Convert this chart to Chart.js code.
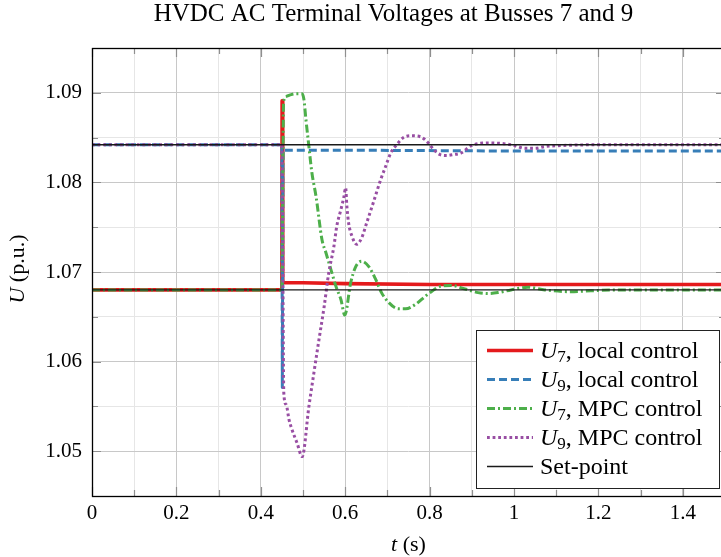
<!DOCTYPE html>
<html>
<head>
<meta charset="utf-8">
<script src="https://cdn.jsdelivr.net/npm/chart.js@4/dist/chart.umd.min.js"></script>
<style>
  html, body { margin: 0; padding: 0; background: #fff; overflow: hidden; }
  #wrap { position: relative; width: 730px; height: 557px; }
</style>
</head>
<body>
<div id="wrap"><canvas id="chart"></canvas></div>
<script>
// ---- data: time (s) and AC terminal voltages (p.u.) ----
const tU7Local = [0, 0.450, 0.4505, 0.452, 0.50, 0.60, 0.80, 1.00, 1.50];
const u7Local  = [1.0680, 1.0680, 1.0891, 1.0688, 1.0688, 1.0687, 1.0686, 1.0686, 1.0686];

const tU9Local = [0, 0.450, 0.4510, 0.4525, 0.60, 1.00, 1.50];
const u9Local  = [1.0842, 1.0842, 1.0571, 1.0836, 1.0836, 1.0835, 1.0835];

const tU7Mpc = [0, 0.450, 0.454, 0.460, 0.472, 0.485, 0.498, 0.502, 0.507, 0.514,
                0.521, 0.531, 0.545, 0.554, 0.566, 0.578, 0.590, 0.599, 0.613, 0.625,
                0.639, 0.656, 0.672, 0.686, 0.703, 0.726, 0.743, 0.767, 0.790, 0.804,
                0.825, 0.851, 0.884, 0.915, 0.939, 0.962, 0.993, 1.033, 1.073, 1.134,
                1.182, 1.229, 1.292, 1.400, 1.500];
const u7Mpc  = [1.0680, 1.0680, 1.0890, 1.0896, 1.0898, 1.0899, 1.0899, 1.0893, 1.0870, 1.0840,
                1.0811, 1.0784, 1.0736, 1.0722, 1.0703, 1.0684, 1.0669, 1.0652, 1.0688, 1.0706,
                1.0712, 1.0706, 1.0692, 1.0677, 1.0666, 1.0659, 1.0659, 1.0664, 1.0673, 1.0678,
                1.0684, 1.0685, 1.0681, 1.0677, 1.0676, 1.0677, 1.0680, 1.0683, 1.0680, 1.0678,
                1.0679, 1.0680, 1.0680, 1.0680, 1.0680];

const tU9Mpc = [0, 0.450, 0.4545, 0.460, 0.467, 0.474, 0.486, 0.498, 0.514, 0.526,
                0.538, 0.550, 0.561, 0.573, 0.580, 0.590, 0.597, 0.601, 0.604, 0.608,
                0.616, 0.627, 0.639, 0.651, 0.667, 0.684, 0.696, 0.708, 0.722, 0.738,
                0.757, 0.778, 0.797, 0.809, 0.825, 0.840, 0.856, 0.875, 0.899, 0.939,
                0.979, 1.002, 1.026, 1.050, 1.073, 1.104, 1.200, 1.300, 1.500];
const u9Mpc  = [1.0842, 1.0842, 1.0565, 1.0552, 1.0535, 1.0524, 1.0509, 1.0494, 1.0550, 1.0588,
                1.0625, 1.0661, 1.0699, 1.0728, 1.0751, 1.0770, 1.0784, 1.0794, 1.0773, 1.0755,
                1.0740, 1.0731, 1.0738, 1.0755, 1.0778, 1.0803, 1.0818, 1.0833, 1.0842, 1.0850,
                1.0852, 1.0851, 1.0844, 1.0837, 1.0831, 1.0830, 1.0831, 1.0833, 1.0841, 1.0844,
                1.0843, 1.0841, 1.0838, 1.0838, 1.0840, 1.0841, 1.0842, 1.0842, 1.0842];

const tSetpoint = [0, 1.5];
const setpointU7 = 1.0680;
const setpointU9 = 1.0842;

// axis limits and tick steps
const xMin = 0, xMax = 1.5, xStep = 0.1;
const yMin = 1.045, yMax = 1.095, yStep = 0.005;

const titleText = 'HVDC AC Terminal Voltages at Busses 7 and 9';

// ---- styling ----
const SERIF = '"Liberation Serif", "Times New Roman", serif';
const RED = '#e41a1c', BLUE = '#377eb8', GREEN = '#4daf4a', PURPLE = '#984ea3';
const GRID_MAJOR = '#c8c8c8', GRID_MINOR = '#e6e6e6', TICK_COLOR = '#8f8f8f';

const pairs = (ts, us) => ts.map((t, i) => ({ x: t, y: us[i] }));
const isMajorX = v => Math.round(v * 10) % 2 === 0;
const isMajorY = v => Math.round(v * 1000) % 10 === 0;

const datasets = [
  { data: pairs(tSetpoint, [setpointU7, setpointU7]), borderColor: '#1a1a1a', borderWidth: 1.4,
    order: 0, legendVar: null, legendText: 'Set-point', legendRank: 4 },
  { data: pairs(tSetpoint, [setpointU9, setpointU9]), borderColor: '#1a1a1a', borderWidth: 1.4,
    order: 0, hideInLegend: true },
  { data: pairs(tU9Mpc, u9Mpc), borderColor: PURPLE, borderWidth: 3, borderDash: [2.8, 2.8],
    cubicInterpolationMode: 'monotone', order: 1,
    legendVar: 'U', legendSub: '9', legendText: ', MPC control', legendRank: 3 },
  { data: pairs(tU7Mpc, u7Mpc), borderColor: GREEN, borderWidth: 3, borderDash: [8, 3, 2, 3],
    cubicInterpolationMode: 'monotone', order: 2,
    legendVar: 'U', legendSub: '7', legendText: ', MPC control', legendRank: 2 },
  { data: pairs(tU9Local, u9Local), borderColor: BLUE, borderWidth: 3, borderDash: [8, 4],
    tension: 0, order: 3,
    legendVar: 'U', legendSub: '9', legendText: ', local control', legendRank: 1 },
  { data: pairs(tU7Local, u7Local), borderColor: RED, borderWidth: 3.6,
    tension: 0, order: 4,
    legendVar: 'U', legendSub: '7', legendText: ', local control', legendRank: 0 }
];

// draws a sequence of differently styled text runs starting at x
function drawRuns(ctx, runs, x, y) {
  let cx = x;
  runs.forEach(r => {
    ctx.font = r.font;
    ctx.fillText(r.text, cx, y + (r.dy || 0));
    cx += ctx.measureText(r.text).width;
  });
  return cx - x;
}
function runsWidth(ctx, runs) {
  let w = 0;
  runs.forEach(r => { ctx.font = r.font; w += ctx.measureText(r.text).width; });
  return w;
}

const decorations = {
  id: 'decorations',
  beforeDatasetsDraw(chart) {
    const { ctx, chartArea: a, scales: { x, y } } = chart;
    ctx.save();
    ctx.strokeStyle = TICK_COLOR;
    ctx.lineWidth = 1.2;
    ctx.beginPath();
    x.ticks.forEach(t => {
      const px = Math.round(x.getPixelForValue(t.value)) + 0.5;
      const len = isMajorX(t.value) ? 9 : 6;
      ctx.moveTo(px, a.bottom); ctx.lineTo(px, a.bottom - len);
      ctx.moveTo(px, a.top); ctx.lineTo(px, a.top + len);
    });
    y.ticks.forEach(t => {
      const py = Math.round(y.getPixelForValue(t.value)) + 0.5;
      const len = isMajorY(t.value) ? 9 : 6;
      ctx.moveTo(a.left, py); ctx.lineTo(a.left + len, py);
      ctx.moveTo(a.right, py); ctx.lineTo(a.right - len, py);
    });
    ctx.stroke();
    ctx.restore();
  },
  afterDraw(chart) {
    const { ctx, chartArea: a } = chart;
    ctx.save();
    ctx.fillStyle = '#000';
    ctx.textBaseline = 'alphabetic';

    // axis frame
    ctx.strokeStyle = '#000';
    ctx.lineWidth = 1.3;
    ctx.strokeRect(Math.round(a.left) + 0.5, Math.round(a.top) + 0.5,
                   a.right - a.left, Math.round(a.bottom) - Math.round(a.top));

    // title
    ctx.font = `25px ${SERIF}`;
    ctx.textAlign = 'center';
    ctx.fillText(titleText, 393.5, 21);
    ctx.textAlign = 'left';

    // x axis label: t (s)
    const xl = [{ text: 't', font: `italic 22px ${SERIF}` }, { text: ' (s)', font: `22px ${SERIF}` }];
    drawRuns(ctx, xl, (a.left + a.right) / 2 - runsWidth(ctx, xl) / 2, 551);

    // y axis label: U (p.u.)
    const yl = [{ text: 'U', font: `italic 22px ${SERIF}` }, { text: ' (p.u.)', font: `22px ${SERIF}` }];
    ctx.save();
    ctx.translate(24, (a.top + a.bottom) / 2 - 3);
    ctx.rotate(-Math.PI / 2);
    drawRuns(ctx, yl, -runsWidth(ctx, yl) / 2, 0);
    ctx.restore();

    // legend box
    const bx = 476.5, by = 330.5, bw = 243, bh = 158;
    ctx.fillStyle = '#fff';
    ctx.fillRect(bx, by, bw, bh);
    ctx.strokeStyle = '#222';
    ctx.lineWidth = 1;
    ctx.strokeRect(bx, by, bw, bh);

    const entries = chart.data.datasets.filter(d => !d.hideInLegend)
      .sort((p, q) => p.legendRank - q.legendRank);
    entries.forEach((d, i) => {
      const cy = 350.5 + i * 29;
      ctx.save();
      ctx.strokeStyle = d.borderColor;
      ctx.lineWidth = d.borderWidth;
      ctx.lineCap = 'butt';
      ctx.setLineDash(d.borderDash || []);
      ctx.beginPath();
      ctx.moveTo(487, cy); ctx.lineTo(533, cy);
      ctx.stroke();
      ctx.restore();
      ctx.fillStyle = '#000';
      const runs = [];
      if (d.legendVar) {
        runs.push({ text: d.legendVar, font: `italic 24px ${SERIF}` });
        runs.push({ text: d.legendSub, font: `17px ${SERIF}`, dy: 4 });
      }
      runs.push({ text: d.legendText, font: `24px ${SERIF}` });
      drawRuns(ctx, runs, 540, cy + 7);
    });
    ctx.restore();
  }
};

new Chart(document.getElementById('chart'), {
  type: 'line',
  data: { datasets },
  options: {
    responsive: true,
    maintainAspectRatio: false,
    animation: false,
    events: [],
    layout: { padding: { left: 0, right: 1.5, top: 48, bottom: 0 } },
    elements: { point: { radius: 0 }, line: { borderCapStyle: 'butt', borderJoinStyle: 'round', fill: false } },
    plugins: { legend: { display: false }, tooltip: { enabled: false }, title: { display: false } },
    scales: {
      x: {
        type: 'linear', min: xMin, max: xMax,
        afterFit: s => { s.height = 61; },
        border: { display: false },
        grid: {
          drawTicks: false,
          lineWidth: 1,
          color: c => (c.tick && isMajorX(c.tick.value)) ? GRID_MAJOR : GRID_MINOR
        },
        ticks: {
          stepSize: xStep, autoSkip: false, maxRotation: 0, padding: 5,
          color: '#000', font: { family: SERIF, size: 21 },
          callback: v => isMajorX(v) ? String(Math.round(v * 10) / 10) : ''
        }
      },
      y: {
        type: 'linear', min: yMin, max: yMax,
        afterFit: s => { s.width = 92; },
        border: { display: false },
        grid: {
          drawTicks: false,
          lineWidth: 1,
          color: c => (c.tick && isMajorY(c.tick.value)) ? GRID_MAJOR : GRID_MINOR
        },
        ticks: {
          stepSize: yStep, autoSkip: false, padding: 10,
          color: '#000', font: { family: SERIF, size: 21 },
          callback: v => isMajorY(v) ? v.toFixed(2) : ''
        }
      }
    }
  },
  plugins: [decorations]
});
</script>
</body>
</html>
